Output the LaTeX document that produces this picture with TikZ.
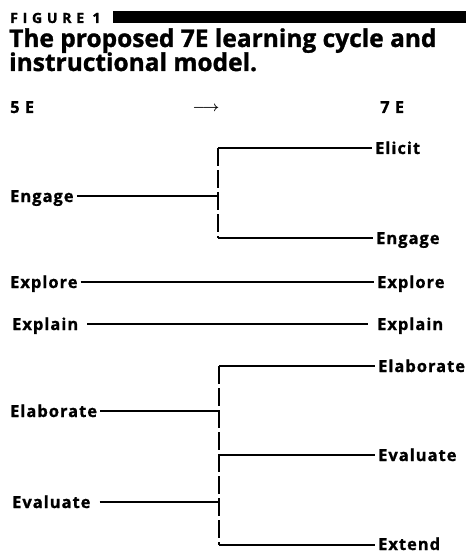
\documentclass[tikz,border=0pt]{standalone}
\usepackage{fontspec}
\setmainfont{Open Sans}[BoldFeatures={FakeBold=1.2}]
\newfontfamily\figfont{Open Sans}[LetterSpace=34,BoldFeatures={FakeBold=1.5}]
\newfontfamily\lblfont{Open Sans}[LetterSpace=6,BoldFeatures={FakeBold=1}]

\begin{document}
\begin{tikzpicture}[
  x=1pt, y=-1pt,
  lbl/.style={font=\lblfont\bfseries\fontsize{16.5}{17}\selectfont, inner xsep=3pt, inner ysep=0pt, anchor=base west},
  head/.style={font=\bfseries\fontsize{24.5}{26}\selectfont, inner sep=0pt, anchor=base west},
  link/.style={line width=1.4pt},
  split/.style={line width=1.4pt, dash pattern=on 18pt off 4pt},
]

\useasboundingbox (0,0) rectangle (470,553);

\node [anchor=base west, inner sep=0pt, font=\figfont\bfseries\fontsize{14}{14}\selectfont] (fig) at (10,23) {FIGURE 1};
\fill (113,11) rectangle (466,23);
\node [head] (title1) at (9,47) {The proposed 7E learning cycle and};
\node [head] (title2) at (9,71) {instructional model.};

\node [lbl, inner sep=0pt] (five) at (10,113) {5 E};
\node [inner sep=0pt, font=\boldmath\fontsize{13.5}{14}\selectfont] (arr) at (206,109) {$\longrightarrow$};
\node [lbl, inner sep=0pt] (seven) at (380,113) {7 E};

\node [lbl] (engL) at (7,202) {Engage};
\node [lbl] (expL) at (7,288) {Explore};
\node [lbl] (expnL) at (9,330) {Explain};
\node [lbl] (elabL) at (7,417) {Elaborate};
\node [lbl] (evalL) at (9,508) {Evaluate};

\node [lbl] (elicitR) at (372,154) {Elicit};
\node [lbl] (engR) at (373,244) {Engage};
\node [lbl] (expR) at (374,288) {Explore};
\node [lbl] (expnR) at (374,330) {Explain};
\node [lbl] (elabR) at (375,372) {Elaborate};
\node [lbl] (evalR) at (375,461) {Evaluate};
\node [lbl] (extR) at (375,550) {Extend};

\coordinate (top1) at (218,148);
\coordinate (mid1) at (218,196);
\coordinate (bot1) at (218,238);
\coordinate (top2) at (219,366);
\coordinate (midA) at (219,411);
\coordinate (midB) at (219,455);
\coordinate (midC) at (219,502);
\coordinate (bot2) at (219,545);

% 5E -> 7E
\draw [link] (engL.east |- mid1) -- (mid1);
\draw [split] (top1) -- (bot1);
\draw [link] (top1) -- (top1 -| elicitR.west);
\draw [link] (bot1) -- (bot1 -| engR.west);

\draw [link] (expL.east |- 0,282) -- (expR.west |- 0,282);
\draw [link] ([xshift=6pt]expnL.east |- 0,324) -- ([xshift=-6pt]expnR.west |- 0,324);

\draw [link] (elabL.east |- midA) -- (midA);
\draw [link] ([xshift=6pt]evalL.east |- midC) -- (midC);
\draw [split] (top2) -- (bot2);
\draw [link] (top2) -- (top2 -| elabR.west);
\draw [link] (midB) -- (midB -| evalR.west);
\draw [link] (bot2) -- (bot2 -| extR.west);

\end{tikzpicture}
\end{document}
